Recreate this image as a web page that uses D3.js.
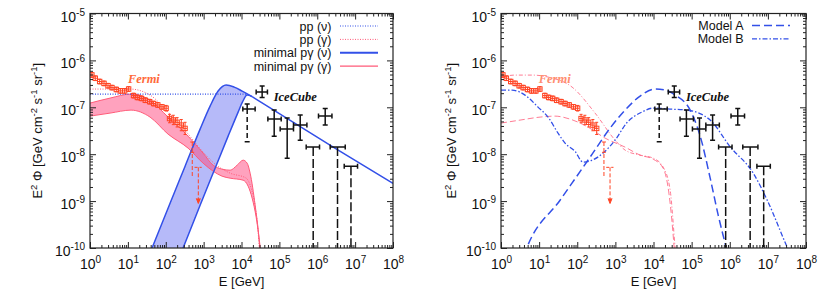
<!DOCTYPE html>
<html lang="en">
<head>
<meta charset="UTF-8">
<title>Neutrino and gamma-ray spectra</title>
<script src="https://d3js.org/d3.v7.min.js"></script>
<style>
  body { margin: 0; background: #fff; }
  svg { display: block; font-family: "Liberation Sans", Arial, sans-serif; }
</style>
</head>
<body>
<svg width="830" height="291"></svg>
<script>
// every value is a log10: energy in GeV, E^2 Phi in GeV cm^-2 s^-1 sr^-1
const xTickExp = [0, 1, 2, 3, 4, 5, 6, 7, 8];
const yTickExp = [-10, -9, -8, -7, -6, -5];

// Fermi diffuse gamma data
const fermiLogE = [0.05, 0.14, 0.255, 0.37, 0.475, 0.58, 0.695, 0.80, 0.915, 1.02, 1.15, 1.25, 1.355, 1.46, 1.575, 1.68, 1.79, 1.90, 2.01, 2.10, 2.20, 2.30, 2.41, 2.51];
const fermiLogF = [-6.31, -6.38, -6.45, -6.49, -6.54, -6.58, -6.62, -6.65, -6.65, -6.61, -6.75, -6.79, -6.81, -6.85, -6.88, -6.92, -6.95, -6.99, -7.02, -7.24, -7.27, -7.32, -7.38, -7.45];
const fermiErr = [0.05, 0.05, 0.05, 0.05, 0.05, 0.05, 0.05, 0.05, 0.05, 0.05, 0.05, 0.05, 0.05, 0.05, 0.05, 0.05, 0.05, 0.05, 0.06, 0.09, 0.10, 0.10, 0.12, 0.13];
// last bin (dashed error bar) and upper limit
const fermiLast = { logE: 2.70, lo: 2.65, hi: 2.75, logF: -7.96, fHi: -7.74, fLo: -8.49 };
const fermiUL = { logE: 2.86, lo: 2.76, hi: 2.95, logF: -8.28, arrowTo: -9.05 };

// IceCube data
const icLogE   = [4.15, 4.545, 4.863, 5.206, 5.55, 6.21];
const icLogELo = [4.035, 4.387, 4.696, 5.021, 5.373, 6.033];
const icLogEHi = [4.36, 4.685, 5.048, 5.373, 5.727, 6.388];
const icLogF   = [-7.038, -6.676, -7.252, -7.465, -7.38, -7.188];
const icLogFHi = [-6.932, -6.547, -7.06, -7.23, -7.166, -7.023];
const icLogFLo = [-7.736, -6.789, -7.615, -8.084, -7.70, -7.38];
const icDashedLow = [true, false, false, false, false, false];
const ulLogE   = [5.893, 6.535, 6.89];
const ulLogELo = [5.708, 6.342, 6.712];
const ulLogEHi = [6.06, 6.739, 7.064];
const ulLogF   = [-7.849, -7.849, -8.255];

// left panel models
const ppNu = [[0, -6.718], [4.15, -6.718]];
const ppGamma = [[0, -6.611], [1.057, -6.611], [1.586, -6.74], [2.061, -7.10], [2.59, -7.57], [2.986, -7.956], [3.303, -8.212], [3.70, -8.404], [4.123, -8.511], [4.255, -8.725], [4.36, -9.109], [4.466, -9.984], [4.48, -10.2]];
const pgGammaTop = [[0, -6.91], [0.529, -6.804], [1.084, -6.718], [1.586, -6.846], [2.061, -7.209], [2.59, -7.615], [2.986, -7.978], [3.25, -8.234], [3.488, -8.319], [3.70, -8.341], [3.885, -8.234], [4.043, -8.127], [4.149, -8.191], [4.228, -8.404], [4.36, -9.087], [4.466, -9.835], [4.50, -10.2]];
const pgGammaBot = [[0, -7.188], [0.529, -7.124], [1.084, -7.06], [1.586, -7.209], [2.061, -7.572], [2.59, -7.871], [2.986, -8.191], [3.25, -8.362], [3.488, -8.469], [3.70, -8.511], [4.043, -8.554], [4.175, -8.682], [4.281, -8.938], [4.387, -9.344], [4.525, -10.2]];
const pgNuLeft = [[1.50, -10.28], [1.638, -10.0], [2.114, -9.045], [2.511, -8.255], [2.907, -7.465], [3.171, -6.974], [3.383, -6.654], [3.594, -6.526], [3.806, -6.569], [4.017, -6.654], [4.281, -6.772]];
const pgNuRight = [[2.32, -10.28], [2.458, -10.0], [2.907, -9.087], [3.303, -8.298], [3.647, -7.615], [3.911, -7.102], [4.03, -6.88], [4.15, -6.74], [4.281, -6.772]];
const pgNuTail = [[4.281, -6.772], [6.422, -7.849], [8.0, -8.624]];

// right panel models
const modelANu = [[0.6, -10.16], [0.675, -10.0], [1.549, -8.981], [2.337, -8.063], [2.862, -7.444], [3.255, -7.06], [3.649, -6.761], [4.043, -6.611], [4.306, -6.633], [4.568, -6.74], [4.962, -7.06], [5.225, -7.615], [5.487, -8.511], [5.697, -9.30], [5.907, -10.0], [5.95, -10.15]];
const modelBNu = [[0, -6.633], [0.289, -6.633], [0.63, -6.74], [0.971, -6.996], [1.234, -7.209], [1.496, -7.551], [1.68, -7.764], [1.943, -7.94], [2.153, -8.17], [2.38, -8.13], [2.993, -7.70], [3.30, -7.33], [3.70, -7.10], [3.991, -7.017], [4.437, -7.038], [4.883, -7.06], [5.487, -7.273], [6.012, -7.843], [6.616, -8.404], [6.983, -8.981], [7.508, -9.984], [7.6, -10.15]];
const modelAGamma = [[0, -7.337], [0.499, -7.273], [1.024, -7.209], [1.418, -7.188], [1.811, -7.252], [2.284, -7.423], [2.73, -7.657], [3.255, -7.849], [3.649, -8.02], [3.991, -8.106], [4.253, -8.298], [4.411, -8.874], [4.542, -10.0], [4.56, -10.2]];
const modelBGamma = [[0, -6.355], [0.368, -6.313], [0.814, -6.313], [1.234, -6.355], [1.864, -6.569], [2.468, -7.124], [2.993, -7.70], [3.255, -7.913], [3.649, -8.02], [3.991, -8.084], [4.253, -8.276], [4.437, -8.767], [4.568, -10.0], [4.59, -10.2]];

const blue = "#3350e8", red = "#ff4424", pink = "#ff5a78";
const yTop = 13.5, yBot = 248;
const panels = [
  { x0: 90, x1: 393, titleX: 42 },
  { x0: 501, x1: 806, titleX: 456 }
];

const svg = d3.select("svg");
svg.append("rect").attr("width", 830).attr("height", 291).attr("fill", "#fff");

function sup(text, base, exp) {
  text.append("tspan").text(base);
  text.append("tspan").attr("font-size", 10).attr("dy", -6).text(exp);
}

panels.forEach((p, i) => {
  const x = d3.scaleLog().domain([1, 1e8]).range([p.x0, p.x1]);
  const y = d3.scaleLog().domain([1e-10, 1e-5]).range([yBot, yTop]);
  const g = svg.append("g");
  const clipId = "clip" + i;
  svg.append("clipPath").attr("id", clipId).append("rect")
    .attr("x", p.x0).attr("y", yTop).attr("width", p.x1 - p.x0).attr("height", yBot - yTop);
  const plot = g.append("g").attr("clip-path", `url(#${clipId})`);

  const line = d3.line().x(d => x(10 ** d[0])).y(d => y(10 ** d[1])).curve(d3.curveMonotoneX);
  const band = (top, bot) => line(top) + line(bot.slice().reverse()).replace(/^M/, "L") + "Z";

  if (i === 0) {
    // minimal p-gamma neutrino band
    plot.append("path").attr("d", band(pgNuLeft, pgNuRight))
      .attr("fill", "rgba(80,90,240,0.42)").attr("stroke", "none");
    // minimal p-gamma gamma band
    plot.append("path").attr("d", band(pgGammaTop, pgGammaBot))
      .attr("fill", "rgba(255,70,125,0.5)").attr("stroke", "none");
    [pgGammaTop, pgGammaBot].forEach(c => plot.append("path").attr("d", line(c))
      .attr("fill", "none").attr("stroke", pink).attr("stroke-width", 1));
    plot.append("path").attr("d", line(ppGamma)).attr("fill", "none")
      .attr("stroke", pink).attr("stroke-width", 1).attr("stroke-dasharray", "1,1.5");
    plot.append("path").attr("d", line(ppNu)).attr("fill", "none")
      .attr("stroke", blue).attr("stroke-width", 1.2).attr("stroke-dasharray", "1,1.5");
    [pgNuLeft, pgNuRight, pgNuTail].forEach(c => plot.append("path").attr("d", line(c))
      .attr("fill", "none").attr("stroke", blue).attr("stroke-width", 1.5));
  } else {
    plot.append("path").attr("d", line(modelAGamma)).attr("fill", "none")
      .attr("stroke", pink).attr("stroke-width", 0.8).attr("stroke-dasharray", "6,3");
    plot.append("path").attr("d", line(modelBGamma)).attr("fill", "none")
      .attr("stroke", pink).attr("stroke-width", 0.8).attr("stroke-dasharray", "4,2,1,2");
    plot.append("path").attr("d", line(modelANu)).attr("fill", "none")
      .attr("stroke", blue).attr("stroke-width", 1.5).attr("stroke-dasharray", "8,4");
    plot.append("path").attr("d", line(modelBNu)).attr("fill", "none")
      .attr("stroke", blue).attr("stroke-width", 1.3).attr("stroke-dasharray", "5,2,1.5,2");
  }

  // Fermi points
  const fg = plot.append("g").attr("stroke", red).attr("fill", "none").attr("stroke-width", 1);
  fermiLogE.forEach((e, k) => {
    const cx = x(10 ** e), cy = y(10 ** fermiLogF[k]);
    const yh = y(10 ** (fermiLogF[k] + fermiErr[k])), yl = y(10 ** (fermiLogF[k] - fermiErr[k]));
    const xl = x(10 ** (e - 0.05)), xh = x(10 ** (e + 0.05));
    fg.append("line").attr("x1", xl).attr("x2", xh).attr("y1", cy).attr("y2", cy);
    fg.append("line").attr("x1", cx).attr("x2", cx).attr("y1", yh).attr("y2", yl);
    fg.append("line").attr("x1", cx - 1.5).attr("x2", cx + 1.5).attr("y1", yh).attr("y2", yh);
    fg.append("line").attr("x1", cx - 1.5).attr("x2", cx + 1.5).attr("y1", yl).attr("y2", yl);
    fg.append("rect").attr("x", cx - 2.2).attr("y", cy - 2.2).attr("width", 4.4).attr("height", 4.4);
  });
  {
    const f = fermiLast, cx = x(10 ** f.logE), cy = y(10 ** f.logF);
    fg.append("line").attr("x1", x(10 ** f.lo)).attr("x2", x(10 ** f.hi)).attr("y1", cy).attr("y2", cy);
    fg.append("line").attr("x1", cx).attr("x2", cx).attr("y1", y(10 ** f.fHi)).attr("y2", y(10 ** f.fLo))
      .attr("stroke-dasharray", "4,2");
    fg.append("line").attr("x1", cx - 2).attr("x2", cx + 2).attr("y1", y(10 ** f.fHi)).attr("y2", y(10 ** f.fHi));
    const u = fermiUL, ux = x(10 ** u.logE), uy = y(10 ** u.logF), ay = y(10 ** u.arrowTo);
    fg.append("line").attr("x1", x(10 ** u.lo)).attr("x2", x(10 ** u.hi)).attr("y1", uy).attr("y2", uy)
      .attr("stroke-dasharray", "3,2");
    fg.append("line").attr("x1", ux).attr("x2", ux).attr("y1", uy).attr("y2", ay).attr("stroke-dasharray", "4,2");
    fg.append("path").attr("d", `M${ux - 2},${ay - 5}L${ux},${ay}L${ux + 2},${ay - 5}`).attr("fill", red);
  }

  // IceCube points
  const ig = plot.append("g").attr("stroke", "#111").attr("stroke-width", 1.5).attr("fill", "none");
  const cap = 2.5;
  icLogE.forEach((e, k) => {
    const cx = x(10 ** e), cy = y(10 ** icLogF[k]);
    const xl = x(10 ** icLogELo[k]), xh = x(10 ** icLogEHi[k]);
    const yh = y(10 ** icLogFHi[k]), yl = y(10 ** icLogFLo[k]);
    ig.append("line").attr("x1", xl).attr("x2", xh).attr("y1", cy).attr("y2", cy);
    ig.append("line").attr("x1", xl).attr("x2", xl).attr("y1", cy - cap).attr("y2", cy + cap);
    ig.append("line").attr("x1", xh).attr("x2", xh).attr("y1", cy - cap).attr("y2", cy + cap);
    ig.append("line").attr("x1", cx).attr("x2", cx).attr("y1", yh).attr("y2", cy);
    ig.append("line").attr("x1", cx).attr("x2", cx).attr("y1", cy).attr("y2", yl)
      .attr("stroke-dasharray", icDashedLow[k] ? "5,3" : null);
    ig.append("line").attr("x1", cx - cap).attr("x2", cx + cap).attr("y1", yh).attr("y2", yh);
    ig.append("line").attr("x1", cx - cap).attr("x2", cx + cap).attr("y1", yl).attr("y2", yl);
  });
  ulLogE.forEach((e, k) => {
    const cx = x(10 ** e), cy = y(10 ** ulLogF[k]);
    const xl = x(10 ** ulLogELo[k]), xh = x(10 ** ulLogEHi[k]);
    ig.append("line").attr("x1", xl).attr("x2", xh).attr("y1", cy).attr("y2", cy);
    ig.append("line").attr("x1", xl).attr("x2", xl).attr("y1", cy - cap).attr("y2", cy + cap);
    ig.append("line").attr("x1", xh).attr("x2", xh).attr("y1", cy - cap).attr("y2", cy + cap);
    ig.append("line").attr("x1", cx).attr("x2", cx).attr("y1", cy).attr("y2", yBot)
      .attr("stroke-dasharray", "9,3");
  });

  // labels inside the plot
  g.append("text").attr("x", x(10 ** (i === 0 ? 1.0 : 0.99))).attr("y", 83)
    .attr("font-family", "'Liberation Serif', serif").attr("font-style", "italic").attr("font-weight", "bold")
    .attr("font-size", 12.5).attr("fill", i === 0 ? "#ff6a3a" : "#ff8e70").text("Fermi");
  g.append("text").attr("x", x(10 ** 4.85)).attr("y", 101)
    .attr("font-family", "'Liberation Serif', serif").attr("font-style", "italic").attr("font-weight", "bold")
    .attr("font-size", 12.5).attr("fill", "#111").text("IceCube");

  // axes: gnuplot-like inward ticks on four sides
  const xMaj = xTickExp.map(e => 10 ** e);
  const xMin = [];
  xTickExp.slice(0, -1).forEach(e => { for (let k = 2; k < 10; k++) xMin.push(k * 10 ** e); });
  const yMaj = yTickExp.map(e => 10 ** e);
  const yMin = [];
  yTickExp.slice(0, -1).forEach(e => { for (let k = 2; k < 10; k++) yMin.push(k * 10 ** e); });

  const ax = g.append("g").attr("stroke-width", 1);
  const put = (axis, tx, ty) => ax.append("g").attr("transform", `translate(${tx},${ty})`).call(axis)
    .call(a => a.select(".domain").remove());
  put(d3.axisBottom(x).tickValues(xMin).tickSize(-3).tickFormat(""), 0, yBot);
  put(d3.axisTop(x).tickValues(xMin).tickSize(-3).tickFormat(""), 0, yTop);
  put(d3.axisTop(x).tickValues(xMaj).tickSize(-6).tickFormat(""), 0, yTop);
  put(d3.axisLeft(y).tickValues(yMin).tickSize(-3).tickFormat(""), p.x0, 0);
  put(d3.axisRight(y).tickValues(yMin).tickSize(-3).tickFormat(""), p.x1, 0);
  put(d3.axisRight(y).tickValues(yMaj).tickSize(-6).tickFormat(""), p.x1, 0);
  put(d3.axisBottom(x).tickValues(xMaj).tickSize(-6).tickFormat(""), 0, yBot)
    .call(a => a.selectAll(".tick text").attr("y", 20.5).attr("dy", null)
      .attr("font-size", 14).attr("font-family", "'Liberation Sans', Arial, sans-serif").attr("fill", "#111")
      .each(function (d) { sup(d3.select(this), "10", Math.round(Math.log10(d))); }));
  put(d3.axisLeft(y).tickValues(yMaj).tickSize(-6).tickFormat(""), p.x0, 0)
    .call(a => a.selectAll(".tick text").attr("x", -5).attr("dy", null).attr("y", 7.5)
      .attr("font-size", 14).attr("font-family", "'Liberation Sans', Arial, sans-serif").attr("fill", "#111")
      .each(function (d) { sup(d3.select(this), "10", Math.round(Math.log10(d))); }));
  ax.selectAll(".tick line").attr("stroke", "#222");

  g.append("rect").attr("x", p.x0).attr("y", yTop).attr("width", p.x1 - p.x0).attr("height", yBot - yTop)
    .attr("fill", "none").attr("stroke", "#222").attr("stroke-width", 1.2);

  // axis titles
  g.append("text").attr("x", (p.x0 + p.x1) / 2).attr("y", 286).attr("text-anchor", "middle")
    .attr("font-size", 13).attr("fill", "#111").text("E [GeV]");
  const yt = g.append("text").attr("transform", `translate(${p.titleX},${(yTop + yBot) / 2}) rotate(-90)`)
    .attr("text-anchor", "middle").attr("font-size", 13).attr("fill", "#111");
  [["E", 0], ["2", 1], [" \u03A6 [GeV cm", 0], ["-2", 1], [" s", 0], ["-1", 1], [" sr", 0], ["-1", 1], ["]", 0]]
    .forEach(([t, s], k, arr) => {
      const prev = k > 0 ? arr[k - 1][1] : 0;
      yt.append("tspan").attr("font-size", s ? 9.5 : null)
        .attr("dy", s && !prev ? -5 : (!s && prev ? 5 : 0)).text(t);
    });

  // legend
  const lg = g.append("g").attr("font-size", 12.5).attr("fill", "#111");
  const entries = i === 0
    ? [["pp (\u03BD)", blue, 1.2, "1,1.5"], ["pp (\u03B3)", pink, 1, "1,1.5"],
       ["minimal p\u03B3 (\u03BD)", blue, 2, null], ["minimal p\u03B3 (\u03B3)", pink, 1.2, null]]
    : [["Model A", blue, 1.5, "8,4"], ["Model B", blue, 1.3, "5,2,1.5,2"]];
  const textEnd = i === 0 ? 331.5 : 743.5, l0 = i === 0 ? 340 : 752, l1 = i === 0 ? 378 : 790;
  entries.forEach(([t, c, w, dash], k) => {
    const by = (i === 0 ? 30.5 : 30) + k * 13.4;
    lg.append("text").attr("x", textEnd).attr("y", by).attr("text-anchor", "end").text(t);
    lg.append("line").attr("x1", l0).attr("x2", l1).attr("y1", by - 4.5).attr("y2", by - 4.5)
      .attr("stroke", c).attr("stroke-width", w).attr("stroke-dasharray", dash);
  });
});
</script>
</body>
</html>
